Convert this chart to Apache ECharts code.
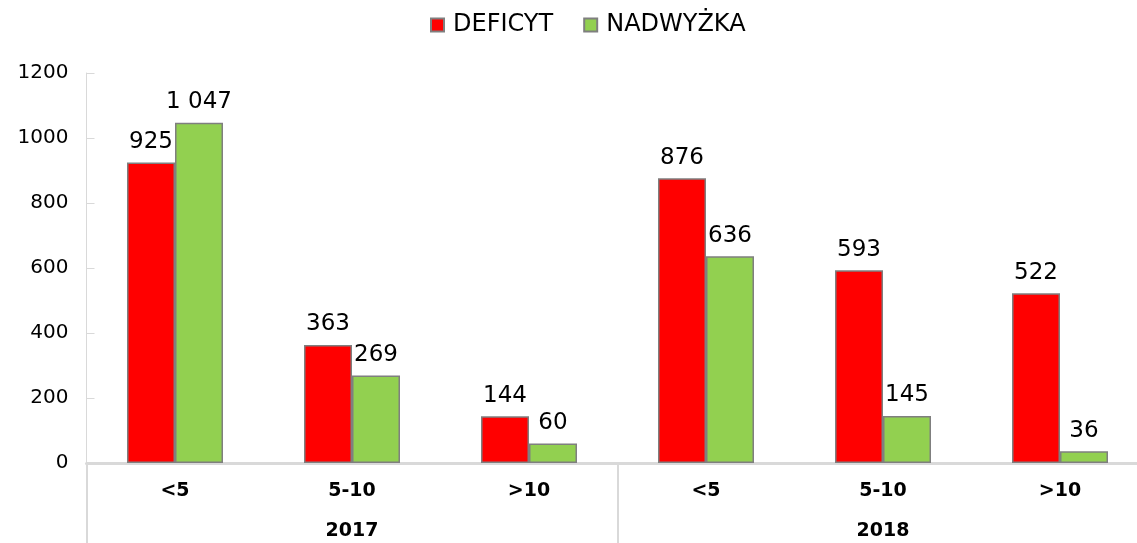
<!DOCTYPE html>
<html>
<head>
<meta charset="utf-8">
<script src="https://cdn.jsdelivr.net/npm/echarts@6/dist/echarts.min.js"></script>
<style>
  html, body { margin:0; padding:0; background:#fff; }
  #chart { width:1137px; height:543px; }
</style>
</head>
<body>
<div id="chart"></div>
<script>
// === Dane ===
const subCats  = ['<5', '5-10', '>10', '<5', '5-10', '>10'];
const years    = ['2017', '2018'];
const deficyt  = [925, 363, 144, 876, 593, 522];
const nadwyzka = [1047, 269, 60, 636, 145, 36];
const yTicks   = { min:0, max:1200, interval:200 };

// === Paleta ===
const red = '#ff0000', green = '#92d050', border = '#7f7f7f', axisGray = '#d9d9d9';
const font = 'DejaVu Sans';

const fmt = v => String(v).replace(/\B(?=(\d{3})+(?!\d))/g, ' ');
const barLabel = { show:true, position:'top', distance:9, color:'#000',
  fontFamily:font, fontSize:23, formatter:p => fmt(p.value) };

const chart = echarts.init(document.getElementById('chart'));
chart.setOption({
  animation:false,
  legend:{ top:13, left:430, padding:0, itemWidth:13, itemHeight:13, itemGap:30,
    icon:'rect', itemStyle:{ borderColor:border, borderWidth:2 },
    textStyle:{ color:'#000', fontFamily:font, fontSize:24, padding:[0,0,0,4] },
    data:['DEFICYT', 'NADWYŻKA'] },
  grid:{ left:86.5, right:-11.5, top:73, bottom:80, containLabel:false, outerBoundsMode:'none' },
  xAxis:[
    { type:'category', data:subCats, position:'bottom',
      axisLine:{ lineStyle:{ color:axisGray, width:3 } },
      axisTick:{ show:false },
      axisLabel:{ margin:19, color:'#000', fontFamily:font, fontWeight:'bold', fontSize:19 } },
    { type:'category', data:years, position:'bottom',
      axisLine:{ show:false },
      axisTick:{ show:true, length:80, lineStyle:{ color:axisGray, width:2 } },
      axisLabel:{ margin:59, color:'#000', fontFamily:font, fontWeight:'bold', fontSize:19 } }
  ],
  yAxis:{ type:'value', ...yTicks,
    axisLine:{ show:true, lineStyle:{ color:axisGray, width:1 } },
    axisTick:{ show:true, inside:true, length:8, lineStyle:{ color:axisGray } },
    splitLine:{ show:false },
    axisLabel:{ margin:18, color:'#000', fontFamily:font, fontSize:20, formatter:v => String(v) } },
  series:[
    { name:'DEFICYT', type:'bar', xAxisIndex:0, barWidth:48, barGap:'0%',
      itemStyle:{ color:red, borderColor:border, borderWidth:1.5 },
      label:barLabel, data:deficyt },
    { name:'NADWYŻKA', type:'bar', xAxisIndex:0, barWidth:48, barGap:'0%',
      itemStyle:{ color:green, borderColor:border, borderWidth:1.5 },
      label:barLabel, data:nadwyzka }
  ]
});
</script>
</body>
</html>
